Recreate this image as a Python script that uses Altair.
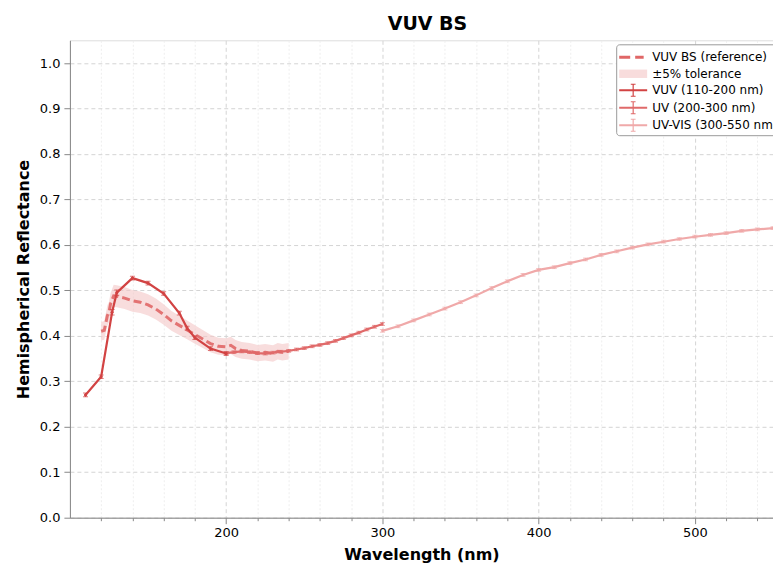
import altair as alt
import pandas as pd

# ---------------- data ----------------
ref_wl = [120, 122, 124, 125, 126, 128, 130, 135, 140, 145, 150, 155, 160, 165, 170,
          175, 180, 185, 190, 195, 200, 203, 206, 210, 215, 220, 225, 230, 233, 236, 240]
ref_r = [0.410, 0.412, 0.445, 0.452, 0.470, 0.488, 0.487, 0.483, 0.477, 0.474, 0.468,
         0.459, 0.447, 0.433, 0.423, 0.413, 0.403, 0.393, 0.383, 0.377, 0.376, 0.379,
         0.372, 0.368, 0.366, 0.362, 0.364, 0.361, 0.366, 0.364, 0.366]

vuv_wl = [110, 120, 127, 130, 140, 150, 160, 170, 175, 180, 190, 200]
vuv_r = [0.270, 0.310, 0.452, 0.495, 0.527, 0.516, 0.493, 0.450, 0.417, 0.396, 0.372, 0.361]
vuv_err = [0.004, 0.004, 0.006, 0.006, 0.004, 0.004, 0.004, 0.004, 0.004, 0.004, 0.004, 0.004]

uv_wl = [200, 205, 210, 215, 220, 225, 230, 235, 240, 245, 250, 255, 260, 265, 270,
         275, 280, 285, 290, 295, 300]
uv_r = [0.362, 0.364, 0.366, 0.364, 0.362, 0.361, 0.363, 0.365, 0.367, 0.370, 0.373,
        0.377, 0.380, 0.384, 0.389, 0.395, 0.401, 0.407, 0.414, 0.420, 0.426]
uv_err = [0.003] * len(uv_wl)

uvvis_wl = [300, 310, 320, 330, 340, 350, 360, 370, 380, 390, 400, 410, 420, 430, 440,
            450, 460, 470, 480, 490, 500, 510, 520, 530, 540, 550]
uvvis_r = [0.411, 0.421, 0.434, 0.447, 0.460, 0.474, 0.489, 0.505, 0.520, 0.534, 0.545,
           0.551, 0.560, 0.568, 0.578, 0.586, 0.594, 0.601, 0.607, 0.613, 0.618, 0.622,
           0.626, 0.631, 0.634, 0.637]
uvvis_err = [0.003] * len(uvvis_wl)

tolerance = 0.05

legend_labels = ["VUV BS (reference)", "±5% tolerance", "VUV (110-200 nm)",
                 "UV (200-300 nm)", "UV-VIS (300-550 nm)"]

x_ticks = [120, 140, 160, 180, 200, 220, 240, 260, 280, 300, 320, 340, 360, 380, 400,
           420, 440, 460, 480, 500, 520, 540]
y_ticks = [0.0, 0.05, 0.1, 0.15, 0.2, 0.25, 0.3, 0.35, 0.4, 0.45, 0.5, 0.55, 0.6, 0.65,
           0.7, 0.75, 0.8, 0.85, 0.9, 0.95, 1.0]

# ---------------- styles ----------------
C_REF = "#e06767"
C_BAND = "#f3c6c6"
C_VUV = "#d24343"
C_UV = "#e06a6a"
C_VIS = "#f0a9a9"
FONT = "DejaVu Sans"

# ---------------- tables ----------------
ref_df = pd.DataFrame({"wl": ref_wl, "r": ref_r})
ref_df["lo"] = ref_df["r"] * (1 - tolerance)
ref_df["hi"] = ref_df["r"] * (1 + tolerance)


def series_df(wl, r, err):
    d = pd.DataFrame({"wl": wl, "r": r, "err": err})
    d["lo"] = d["r"] - d["err"]
    d["hi"] = d["r"] + d["err"]
    return d


vuv_df = series_df(vuv_wl, vuv_r, vuv_err)
uv_df = series_df(uv_wl, uv_r, uv_err)
vis_df = series_df(uvvis_wl, uvvis_r, uvvis_err)

x_major = "datum.value % 100 === 0"
y_major = "abs(datum.value * 10 - round(datum.value * 10)) < 0.000001"

x_axis = alt.Axis(
    values=x_ticks,
    labelExpr="datum.value % 100 === 0 ? format(datum.value, 'd') : ''",
    tickSize={"condition": {"test": x_major, "value": 6}, "value": 3},
    gridColor={"condition": {"test": x_major, "value": "#d4d4d4"}, "value": "#eeeeee"},
    gridDash={"condition": {"test": x_major, "value": [4, 3]}, "value": [2, 2]},
    title="Wavelength (nm)",
    titleFontSize=16, titleFont=FONT, titleFontWeight="bold",
    titleBaseline="alphabetic", titleY=42,
    labelFontSize=13, labelFont=FONT, labelPadding=3, labelColor="#000",
    labelFlush=False,
)
y_axis = alt.Axis(
    values=y_ticks,
    labelExpr=f"{y_major} ? format(datum.value, '.1f') : ''",
    tickSize={"condition": {"test": y_major, "value": 6}, "value": 3},
    gridColor={"condition": {"test": y_major, "value": "#d4d4d4"}, "value": "#f3f3f3"},
    gridDash={"condition": {"test": y_major, "value": [4, 3]}, "value": [2, 2]},
    title="Hemispherical Reflectance",
    titleFontSize=16, titleFont=FONT, titleFontWeight="bold",
    titleAngle=270, titleBaseline="middle", titleX=-46, titleY=239,
    labelFontSize=13, labelFont=FONT, labelPadding=4, labelColor="#000",
    labelFlush=False,
)

X = alt.X("wl:Q", scale=alt.Scale(domain=[100, 550], nice=False, zero=False), axis=x_axis)
Y = alt.Y("r:Q", scale=alt.Scale(domain=[0, 1.05], nice=False, zero=False), axis=y_axis)

band = alt.Chart(ref_df).mark_area(color=C_BAND, opacity=0.6, clip=True).encode(
    x=X, y=alt.Y("lo:Q", scale=alt.Scale(domain=[0, 1.05], nice=False, zero=False), axis=y_axis),
    y2="hi:Q")

ref_line = alt.Chart(ref_df).mark_line(color=C_REF, strokeWidth=3, strokeDash=[8, 4],
                                       opacity=0.9, clip=True).encode(x=X, y=Y)


def meas_layers(df, color, width, psize):
    line = alt.Chart(df).mark_line(color=color, strokeWidth=width, clip=True).encode(x=X, y=Y)
    pts = alt.Chart(df).mark_point(color=color, filled=True, size=psize, opacity=1,
                                   clip=True).encode(x=X, y=Y)
    err = alt.Chart(df).mark_rule(color=color, strokeWidth=1, clip=True).encode(
        x=X, y=alt.Y("lo:Q"), y2="hi:Q")
    caps_lo = alt.Chart(df).mark_tick(color=color, thickness=1, size=5, orient="horizontal",
                                      clip=True).encode(x=X, y=alt.Y("lo:Q"))
    caps_hi = alt.Chart(df).mark_tick(color=color, thickness=1, size=5, orient="horizontal",
                                      clip=True).encode(x=X, y=alt.Y("hi:Q"))
    return [line, err, caps_lo, caps_hi, pts]


# legend built from a tiny table of the legend labels (points kept outside the view)
leg_df = pd.DataFrame({"label": legend_labels, "wl": [-1000] * 5, "r": [-1] * 5})
dash_path = "M-1.4,-0.15H-0.3V0.15H-1.4Z M0.2,-0.15H1.05V0.15H0.2Z"
rect_path = "M-1.4,-0.42H1.4V0.42H-1.4Z"
ebar_path = ("M-1.4,-0.1H1.4V0.1H-1.4Z M-0.06,-0.6H0.06V0.6H-0.06Z "
             "M-0.24,-0.65H0.24V-0.55H-0.24Z M-0.24,0.55H0.24V0.65H-0.24Z")
leg = alt.Legend(title=None, orient="none", legendX=547, legendY=4,
                 symbolSize=400, symbolStrokeWidth=0,
                 labelFont=FONT, labelFontSize=12, labelLimit=0,
                 labelColor="#000", labelOffset=9,
                 rowPadding=0.5, padding=3, symbolOffset=4,
                 fillColor="#ffffff", strokeColor="#9a9a9a",
                 cornerRadius=3)
legend_layer = alt.Chart(leg_df).mark_point(filled=True, opacity=1, size=10, clip=True).encode(
    x=X, y=Y,
    color=alt.Color("label:N", scale=alt.Scale(domain=legend_labels,
                                               range=[C_REF, "#f8dcdc", C_VUV, C_UV, C_VIS]),
                    legend=leg),
    shape=alt.Shape("label:N", scale=alt.Scale(domain=legend_labels,
                                               range=[dash_path, rect_path, ebar_path,
                                                      ebar_path, ebar_path]),
                    legend=leg),
)

layers = [band, ref_line]
layers += meas_layers(vis_df, C_VIS, 2.2, 6)
layers += meas_layers(uv_df, C_UV, 2.2, 6)
layers += meas_layers(vuv_df, C_VUV, 2.2, 10)
layers.append(legend_layer)

chart = alt.layer(*layers).properties(
    width=704, height=478,
    title=alt.TitleParams("VUV BS", font=FONT, fontSize=19, fontWeight="bold",
                          anchor="middle", dx=6, dy=23, offset=14, baseline="alphabetic",
                          color="#000"),
    autosize=alt.AutoSizeParams(type="none"),
    padding={"left": 70, "top": 40, "right": 0, "bottom": 46},
).configure_view(stroke="#000", strokeWidth=1).configure_axis(
    domainColor="#000", tickColor="#000", domainWidth=1, tickWidth=1, grid=True,
).configure(background="#ffffff")

chart.save("out.html", embed_options={"renderer": "svg", "actions": False})
